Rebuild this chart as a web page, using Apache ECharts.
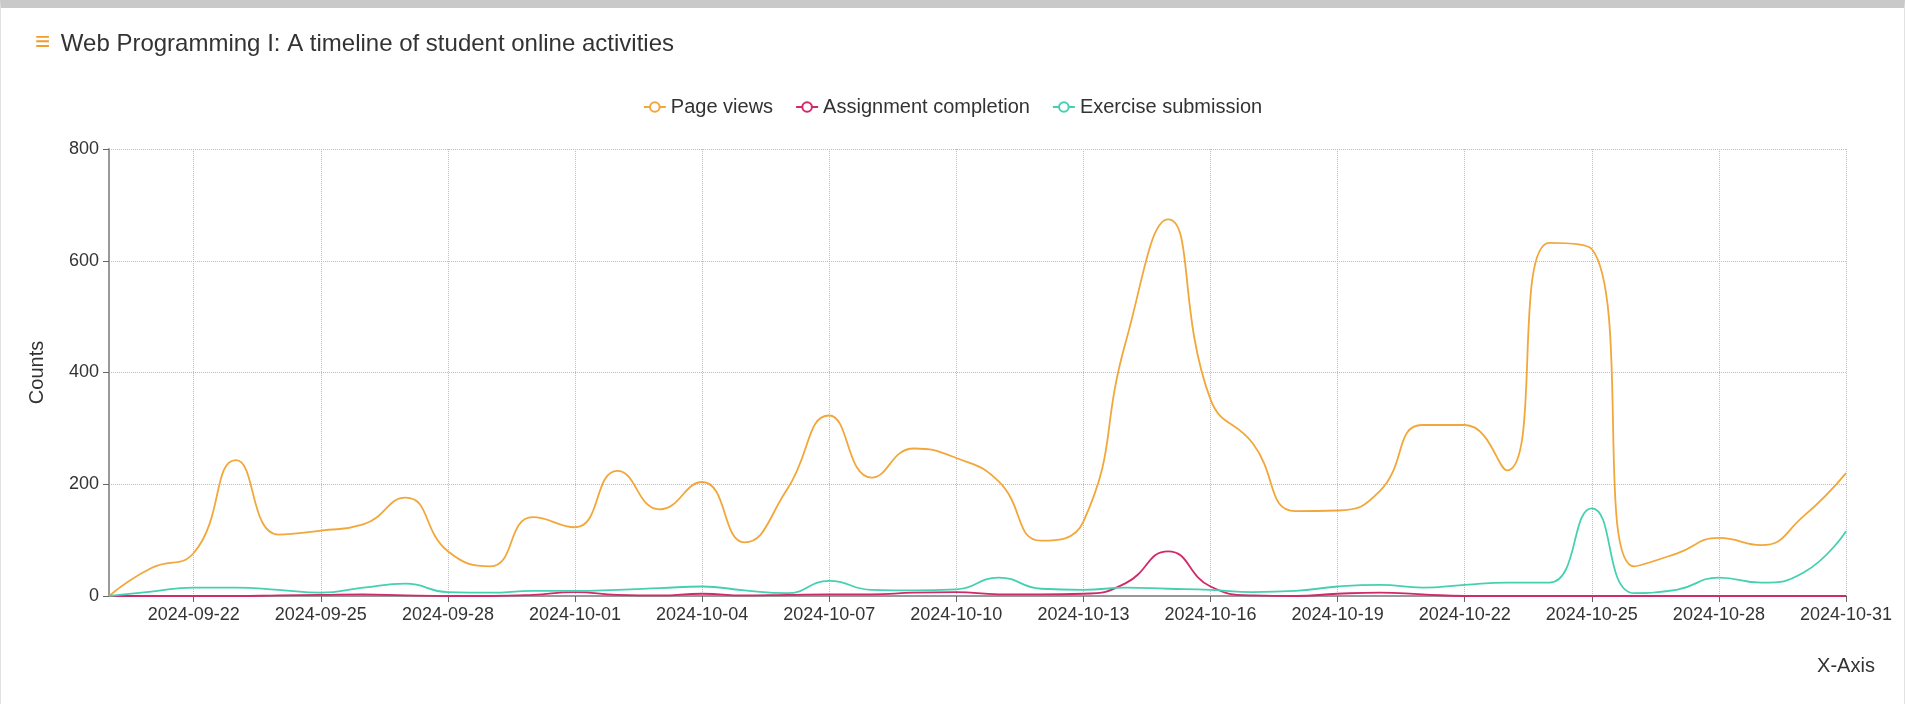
<!DOCTYPE html>
<html>
<head>
<meta charset="utf-8">
<title>Web Programming I: A timeline of student online activities</title>
<script src="https://cdn.jsdelivr.net/npm/echarts@6/dist/echarts.min.js"></script>
<style>
  html, body { margin: 0; padding: 0; background: #fff; }
  body { width: 1905px; height: 704px; overflow: hidden; position: relative; }
  #frame {
    position: absolute; left: 0; top: 0; width: 1903px; height: 696px;
    border-top: 8px solid #c9c9c9; border-left: 1px solid #e2e2e2; border-right: 1px solid #e2e2e2;
  }
  #chart { position: absolute; left: 0; top: 0; width: 1905px; height: 704px; }
</style>
</head>
<body>
<div id="frame"></div>
<div id="chart"></div>
<script>
// Daily activity counts, one entry per day
const dates = [
  '2024-09-20','2024-09-21','2024-09-22','2024-09-23','2024-09-24','2024-09-25','2024-09-26',
  '2024-09-27','2024-09-28','2024-09-29','2024-09-30','2024-10-01','2024-10-02','2024-10-03',
  '2024-10-04','2024-10-05','2024-10-06','2024-10-07','2024-10-08','2024-10-09','2024-10-10',
  '2024-10-11','2024-10-12','2024-10-13','2024-10-14','2024-10-15','2024-10-16','2024-10-17',
  '2024-10-18','2024-10-19','2024-10-20','2024-10-21','2024-10-22','2024-10-23','2024-10-24',
  '2024-10-25','2024-10-26','2024-10-27','2024-10-28','2024-10-29','2024-10-30','2024-10-31'
];
const pageViews = [
  0, 50, 77, 243, 110, 117, 128, 176, 80, 53, 141, 123, 224, 155,
  204, 96, 190, 323, 212, 264, 247, 205, 99, 133, 455, 674, 352, 273,
  152, 153, 188, 306, 306, 225, 632, 621, 53, 76, 104, 91, 143, 220
];
const assignmentCompletion = [
  0, 0, 0, 0, 1, 2, 3, 1, 0, 0, 2, 7, 2, 1,
  4, 1, 2, 3, 3, 6, 7, 3, 3, 4, 23, 80, 17, 1,
  0, 4, 6, 3, 0, 0, 0, 0, 0, 0, 0, 0, 0, 0
];
const exerciseSubmission = [
  0, 8, 15, 15, 11, 6, 15, 22, 7, 6, 9, 9, 11, 14,
  17, 10, 5, 27, 11, 10, 12, 33, 13, 11, 15, 13, 11, 7,
  9, 17, 20, 15, 20, 24, 24, 157, 5, 11, 33, 24, 42, 116
];
const seriesNames = ['Page views', 'Assignment completion', 'Exercise submission'];
const yTicks = { min: 0, max: 800, interval: 200 };

// every third day, starting on 2024-09-22
const everyThird = (idx) => idx % 3 === 2;

const chart = echarts.init(document.getElementById('chart'), null, { renderer: 'canvas' });

const lineSeries = (name, data, color) => ({
  name: name,
  type: 'line',
  data: data,
  smooth: true,
  symbol: 'emptyCircle',
  symbolSize: 6,
  showSymbol: false,
  color: color,
  lineStyle: { width: 1.8, color: color },
  emphasis: { disabled: true }
});

chart.setOption({
  animation: false,
  textStyle: { fontFamily: '"Liberation Sans", Arial, Helvetica, sans-serif' },
  title: {
    text: '{icon|≡} Web Programming I: A timeline of student online activities',
    left: 30,
    top: 25,
    textStyle: {
      fontSize: 24,
      fontWeight: 'normal',
      color: '#333',
      rich: {
        icon: { fontSize: 26, fontWeight: 'bold', color: '#ef9f2f', padding: [0, 4, 2, 0] }
      }
    }
  },
  legend: {
    data: seriesNames,
    left: 'center',
    top: 92,
    itemGap: 22,
    itemWidth: 22,
    itemHeight: 12,
    textStyle: { fontSize: 20, color: '#333' }
  },
  grid: { left: 109, right: 59, top: 149, bottom: 108, containLabel: false },
  xAxis: {
    type: 'category',
    data: dates,
    boundaryGap: false,
    name: 'X-Axis',
    nameLocation: 'end',
    nameGap: 0,
    nameTextStyle: { fontSize: 20, color: '#333', align: 'center', verticalAlign: 'top', padding: [60, 0, 0, 0] },
    axisLine: { lineStyle: { color: '#999', width: 2 } },
    axisTick: { interval: everyThird, length: 6, lineStyle: { color: '#666' } },
    axisLabel: { interval: everyThird, fontSize: 18, color: '#333', margin: 10 },
    splitLine: { show: true, interval: everyThird, lineStyle: { type: 'dotted', color: '#bdbdbd' } }
  },
  yAxis: {
    type: 'value',
    min: yTicks.min,
    max: yTicks.max,
    interval: yTicks.interval,
    name: 'Counts',
    nameLocation: 'middle',
    nameGap: 62,
    nameTextStyle: { fontSize: 20, color: '#333' },
    axisLine: { show: true, lineStyle: { color: '#999', width: 2 } },
    axisTick: { show: true, length: 6, lineStyle: { color: '#666' } },
    axisLabel: { fontSize: 18, color: '#333', margin: 10 },
    splitLine: { show: true, lineStyle: { type: 'dotted', color: '#bdbdbd' } }
  },
  series: [
    lineSeries(seriesNames[0], pageViews, '#f2a73b'),
    lineSeries(seriesNames[1], assignmentCompletion, '#d02a68'),
    lineSeries(seriesNames[2], exerciseSubmission, '#45d1b1')
  ]
});
</script>
</body>
</html>
